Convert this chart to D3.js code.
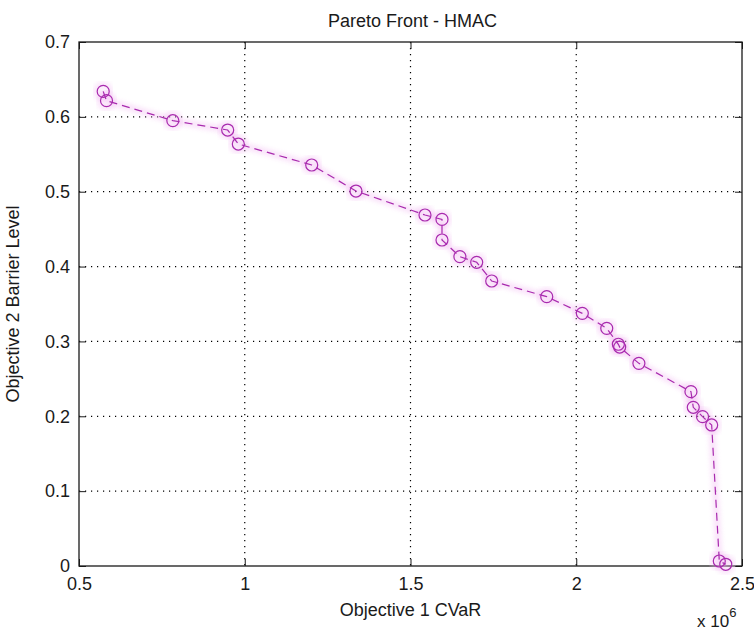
<!DOCTYPE html>
<html>
<head>
<meta charset="utf-8">
<script src="https://cdn.jsdelivr.net/npm/d3@7"></script>
<style>
  html, body { margin: 0; padding: 0; background: #fff; }
  svg { display: block; font-family: "Liberation Sans", Arial, sans-serif; }
</style>
</head>
<body>
<svg id="chart" width="754" height="633"></svg>
<script>
// Objective 1 (CVaR, in units of 1e6) and Objective 2 (barrier level) per Pareto point
const cvar = [0.573, 0.583, 0.783, 0.9485, 0.9806, 1.202, 1.3356, 1.5437, 1.595, 1.595,
              1.649, 1.6997, 1.745, 1.911, 2.0183, 2.092, 2.127, 2.131, 2.189, 2.346,
              2.353, 2.381, 2.4085, 2.4315, 2.451];
const barrier = [0.634, 0.6216, 0.595, 0.5824, 0.5637, 0.5357, 0.5009, 0.4689, 0.463, 0.4355,
                 0.4132, 0.4057, 0.3807, 0.3598, 0.3375, 0.3175, 0.2962, 0.2925, 0.2707, 0.2329,
                 0.212, 0.1995, 0.1884, 0.0067, 0.0023];
const xTicks = [0.5, 1, 1.5, 2, 2.5];
const yTicks = [0, 0.1, 0.2, 0.3, 0.4, 0.5, 0.6, 0.7];
const xTickLabels = ["0.5", "1", "1.5", "2", "2.5"];
const yTickLabels = ["0", "0.1", "0.2", "0.3", "0.4", "0.5", "0.6", "0.7"];

const points = cvar.map((c, i) => ({ x: c, y: barrier[i] }));

const svg = d3.select("#chart");
const margin = { left: 79, top: 42, right: 12, bottom: 67 };
const W = 754 - margin.left - margin.right;
const H = 633 - margin.top - margin.bottom;
const fontSize = 18;
const ink = "#1a1a1a";
const markColor = "#a82aae";

const x = d3.scaleLinear().domain([0.5, 2.5]).range([0, W]);
const y = d3.scaleLinear().domain([0, 0.7]).range([H, 0]);

const g = svg.append("g").attr("transform", `translate(${margin.left},${margin.top})`);

// dotted grid
g.append("g").selectAll("line").data(xTicks.slice(1, -1)).join("line")
  .attr("x1", d => x(d)).attr("x2", d => x(d)).attr("y1", 0).attr("y2", H)
  .attr("stroke", "#000").attr("stroke-width", 1.2).attr("stroke-dasharray", "1.2,4.8");
g.append("g").selectAll("line").data(yTicks.slice(1, -1)).join("line")
  .attr("x1", 0).attr("x2", W).attr("y1", d => y(d)).attr("y2", d => y(d))
  .attr("stroke", "#000").attr("stroke-width", 1.2).attr("stroke-dasharray", "1.2,4.8");

// axes with inward ticks on all four sides
function styleAxis(sel) {
  sel.select(".domain").remove();
  sel.selectAll(".tick line").attr("stroke", ink).attr("stroke-width", 1);
  sel.selectAll(".tick text").attr("fill", ink).style("font-size", fontSize + "px");
}
g.append("g").attr("transform", `translate(0,${H})`)
  .call(d3.axisBottom(x).tickValues(xTicks).tickFormat((d, i) => xTickLabels[i])
    .tickSizeInner(-7).tickSizeOuter(0).tickPadding(11))
  .call(styleAxis);
g.append("g")
  .call(d3.axisTop(x).tickValues(xTicks).tickFormat("").tickSizeInner(-7).tickSizeOuter(0))
  .call(styleAxis);
g.append("g")
  .call(d3.axisLeft(y).tickValues(yTicks).tickFormat((d, i) => yTickLabels[i])
    .tickSizeInner(-7).tickSizeOuter(0).tickPadding(9))
  .call(styleAxis);
g.append("g").attr("transform", `translate(${W},0)`)
  .call(d3.axisRight(y).tickValues(yTicks).tickFormat("").tickSizeInner(-7).tickSizeOuter(0))
  .call(styleAxis);

// plot box
g.append("rect").attr("x", 0).attr("y", 0).attr("width", W).attr("height", H)
  .attr("fill", "none").attr("stroke", ink).attr("stroke-width", 1.3);

// soft glow under the series
const glow = svg.append("defs").append("filter").attr("id", "soft")
  .attr("x", "-20%").attr("y", "-20%").attr("width", "140%").attr("height", "140%");
glow.append("feGaussianBlur").attr("stdDeviation", 2.5);

const line = d3.line().x(d => x(d.x)).y(d => y(d.y));

g.append("path").datum(points).attr("d", line)
  .attr("fill", "none").attr("stroke", "#f2b8f2").attr("stroke-width", 6)
  .attr("opacity", 0.45).attr("filter", "url(#soft)");
g.append("g").selectAll("circle").data(points).join("circle")
  .attr("cx", d => x(d.x)).attr("cy", d => y(d.y)).attr("r", 7)
  .attr("fill", "none").attr("stroke", "#f2b8f2").attr("stroke-width", 5)
  .attr("opacity", 0.45).attr("filter", "url(#soft)");

// dashed front line with circle markers
g.append("path").datum(points).attr("d", line)
  .attr("fill", "none").attr("stroke", markColor).attr("stroke-width", 1.2)
  .attr("stroke-dasharray", "8,5");
g.append("g").selectAll("circle").data(points).join("circle")
  .attr("cx", d => x(d.x)).attr("cy", d => y(d.y)).attr("r", 6)
  .attr("fill", "none").attr("stroke", markColor).attr("stroke-width", 1.2);

// title and axis labels
svg.append("text").attr("x", margin.left + W / 2 + 2).attr("y", 27)
  .attr("text-anchor", "middle").attr("fill", ink).style("font-size", fontSize + "px")
  .text("Pareto Front - HMAC");
svg.append("text").attr("x", margin.left + W / 2).attr("y", 616)
  .attr("text-anchor", "middle").attr("fill", ink).style("font-size", fontSize + "px")
  .text("Objective 1 CVaR");
svg.append("text")
  .attr("transform", `translate(19,${margin.top + H / 2}) rotate(-90)`)
  .attr("text-anchor", "middle").attr("fill", ink).style("font-size", fontSize + "px")
  .text("Objective 2 Barrier Level");

// exponent note for the x axis
const expo = svg.append("text").attr("x", 697).attr("y", 627).attr("fill", ink)
  .style("font-size", "17px");
expo.append("tspan").text("x 10");
expo.append("tspan").attr("dy", -10).style("font-size", "13px").text("6");
</script>
</body>
</html>
